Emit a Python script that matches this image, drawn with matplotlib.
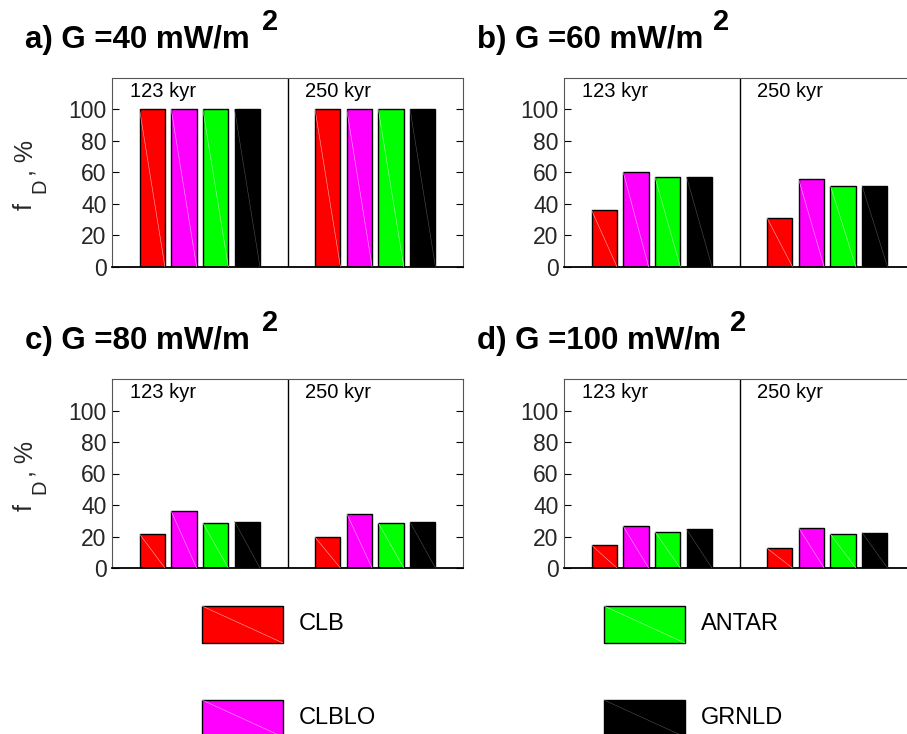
import matplotlib
matplotlib.use("Agg")
import matplotlib.pyplot as plt
from matplotlib.patches import Rectangle

plt.rcParams['font.family'] = ['Liberation Sans', 'DejaVu Sans']

# ---- data ----
series = ['CLB', 'CLBLO', 'ANTAR', 'GRNLD']
colors = ['#ff0000', '#ff00ff', '#00ff00', '#000000']
diag_colors = ['#ffb0b0', '#ffb0ff', '#b0ffb0', '#505050']
ages = ['123 kyr', '250 kyr']
panel_labels = ['a)', 'b)', 'c)', 'd)']
heat_flow = [40, 60, 80, 100]

# f_D (%) per panel: [age 123 kyr values, age 250 kyr values]
fd_40 = [[100, 100, 100, 100], [100, 100, 100, 100]]
fd_60 = [[36, 60, 57, 57], [31, 55.5, 51.5, 51.5]]
fd_80 = [[21.5, 36, 28.5, 29.5], [19.5, 34.5, 28.5, 29]]
fd_100 = [[14.5, 26.5, 23, 24.5], [12.5, 25.5, 21.5, 22.5]]
fd_all = [fd_40, fd_60, fd_80, fd_100]

W, H = 907, 734
fig = plt.figure(figsize=(W / 100, H / 100), dpi=100)


def fxy(x, y):
    # pixel position (from top-left) -> figure fraction
    return x / W, 1 - y / H


group_step = 5.54
bar_w = 0.8
xlim = (-1.27, 2 * group_step - 1.27)

# axes boxes in pixels: left, top, right, bottom
boxes = [(112, 78, 463, 266.7), (564, 78, 915, 266.7),
         (112, 379, 463, 568), (564, 379, 915, 568)]
title_xy = [(25, 48), (477, 48), (25, 349), (477, 349)]
sup_x = [262, 713, 262, 730]

for k, (fd, box) in enumerate(zip(fd_all, boxes)):
    l, t, r, b = box
    ax = fig.add_axes([l / W, 1 - b / H, (r - l) / W, (b - t) / H])
    for g, vals in enumerate(fd):
        for i, v in enumerate(vals):
            x = g * group_step + i
            ax.bar(x, v, width=bar_w, color=colors[i], edgecolor='black',
                   linewidth=1.0, zorder=2)
            ax.plot([x - bar_w / 2, x + bar_w / 2], [v, 0],
                    color=diag_colors[i], lw=0.4, zorder=3)
        ax.text(0.052 + g * 0.498, 0.93, ages[g], transform=ax.transAxes,
                fontsize=14.5, va='center', ha='left')
    ax.axvline(group_step - 1.27, color='black', lw=1.0, zorder=1)
    ax.set_xlim(*xlim)
    ax.set_ylim(0, 120)
    ax.set_yticks([0, 20, 40, 60, 80, 100])
    ax.set_xticks([])
    ax.tick_params(axis='y', direction='in', length=5, labelsize=16.5,
                   labelcolor='#262626', right=True, pad=4)
    for side in ['top', 'left', 'right']:
        ax.spines[side].set_color('#555555')
        ax.spines[side].set_linewidth(0.8)
    ax.spines['bottom'].set_color('black')
    ax.spines['bottom'].set_linewidth(1.3)

    if k % 2 == 0:
        # y label "f_D, %" built from pieces, rotated
        dy = t - 78
        fig.text(*fxy(32, 210 + dy), 'f', fontsize=18, rotation=90,
                 rotation_mode='anchor', ha='left', va='baseline',
                 color='#262626')
        fig.text(*fxy(45, 193 + dy), 'D', fontsize=14.5, rotation=90,
                 rotation_mode='anchor', ha='left', va='baseline',
                 color='#262626')
        fig.text(*fxy(32, 176 + dy), ', %', fontsize=18, rotation=90,
                 rotation_mode='anchor', ha='left', va='baseline',
                 color='#262626')

    tx, ty = title_xy[k]
    fig.text(*fxy(tx, ty), f'{panel_labels[k]} G ={heat_flow[k]} mW/m',
             fontsize=22.5, fontweight='bold', va='baseline', ha='left')
    fig.text(*fxy(sup_x[k], ty - 18), '2', fontsize=21,
             fontweight='bold', va='baseline', ha='left')

# ---- legend drawn as patches ----
lax = fig.add_axes([0, 0, 1, 1])
lax.set_xlim(0, W)
lax.set_ylim(H, 0)
lax.axis('off')
leg_pos = [(202, 606), (202, 700), (604, 606), (604, 700)]
for i, name in enumerate(series):
    x0, y0 = leg_pos[i]
    lax.add_patch(Rectangle((x0, y0), 81, 37, facecolor=colors[i],
                            edgecolor='black', lw=1.0))
    lax.plot([x0, x0 + 81], [y0, y0 + 37], color=diag_colors[i], lw=0.4)
    lax.text(x0 + 97, y0 + 18, name, fontsize=17, va='center', ha='left')

fig.savefig('out.png', dpi=100)
